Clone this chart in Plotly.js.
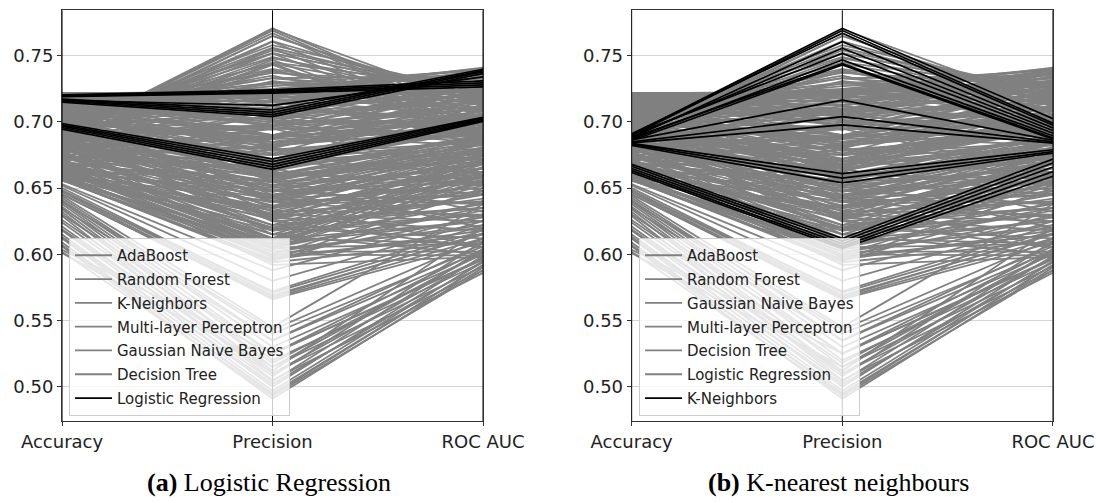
<!DOCTYPE html>
<html><head><meta charset="utf-8">
<script src="https://cdn.plot.ly/plotly-3.0.1.min.js"></script>
<style>html,body{margin:0;padding:0;background:#fff}#chart{width:1102px;height:503px}</style>
</head><body><div id="chart"></div>
<script>
// ---- axis / text ----
const metricLabels = ['Accuracy', 'Precision', 'ROC AUC'];
const yTicks = [0.50, 0.55, 0.60, 0.65, 0.70, 0.75];
const captionA = '<b>(a)</b> Logistic Regression';
const captionB = '<b>(b)</b> K-nearest neighbours';

// ---- AdaBoost ----
const adaAcc  = [0.722,0.721,0.720,0.719,0.718,0.716,0.714,0.712,0.710,0.707,0.704,0.701,0.698,0.695,
                 0.7215,0.7205,0.7185,0.7175,0.7155,0.7135,0.7115,0.7095,0.7075,0.7055,0.7030,0.7010,0.6990,0.6965,0.6940,0.6920,0.6905,0.7170,0.7120,0.7060];
const adaPrec = [0.722,0.719,0.724,0.712,0.721,0.706,0.716,0.700,0.722,0.694,0.710,0.688,0.703,0.682,
                 0.7230,0.7150,0.7240,0.6980,0.7290,0.6900,0.7270,0.6830,0.7180,0.6760,0.7060,0.6700,0.6960,0.6650,0.6880,0.6620,0.6800,0.7250,0.7020,0.7330];
const adaRoc  = [0.741,0.739,0.736,0.738,0.733,0.737,0.730,0.735,0.727,0.732,0.724,0.729,0.721,0.726,
                 0.7400,0.7340,0.7370,0.7280,0.7390,0.7250,0.7360,0.7220,0.7310,0.7190,0.7270,0.7160,0.7230,0.7130,0.7200,0.7100,0.7170,0.7405,0.7180,0.7350];

// ---- Random Forest ----
const rfAcc  = [0.690,0.715,0.698,0.710,0.700,0.705,0.703,0.718,0.693,0.713,0.696,0.708,0.688,0.685,0.682,0.679,0.676,0.673,0.670,0.667,0.664,0.660,
                0.6900,0.6960,0.7160,0.6920,0.7110,0.6990,0.7040,0.7010,0.6970,0.7220,0.6910,0.6870,0.6840,0.6805,0.6770,0.6740,0.6710,0.6680,0.6650,0.6620,0.6590,0.6575,0.6880,0.6955,0.7065,
                0.7210,0.6950,0.6980,0.7090,0.7050,0.7170,0.6990,0.6960,0.6925,0.6890,0.6855,0.6820,0.6785,0.6750,0.6720];
const rfPrec = [0.765,0.721,0.758,0.737,0.752,0.729,0.744,0.718,0.748,0.713,0.738,0.705,0.731,0.697,0.717,0.689,0.709,0.681,0.700,0.672,0.690,0.663,
                0.7700,0.7560,0.7200,0.7610,0.7330,0.7490,0.7150,0.7390,0.7250,0.7010,0.7200,0.6850,0.7100,0.6750,0.6950,0.6650,0.6870,0.6560,0.6790,0.6480,0.6700,0.6350,0.7650,0.7540,0.7350,
                0.7100,0.7450,0.7520,0.7300,0.7400,0.7180,0.7300,0.7080,0.7230,0.6980,0.7120,0.6880,0.7050,0.6820,0.6950];
const rfRoc  = [0.712,0.723,0.722,0.728,0.719,0.726,0.716,0.730,0.720,0.720,0.713,0.717,0.710,0.714,0.704,0.711,0.701,0.708,0.698,0.705,0.695,0.702,
                0.7120,0.7180,0.7330,0.7150,0.7210,0.7120,0.7290,0.7060,0.7180,0.7000,0.7090,0.6960,0.7030,0.6920,0.6980,0.6880,0.6940,0.6830,0.6900,0.6790,0.6860,0.6750,0.7140,0.7200,0.7010,
                0.7200,0.7250,0.7190,0.7260,0.7130,0.7250,0.7080,0.7150,0.7030,0.7100,0.6990,0.7050,0.6940,0.7000,0.6900];

// ---- K-Neighbors ----
const knAcc  = [0.6905,0.6895,0.6910,0.6880,0.6890,0.6900,0.6870,0.6880,0.6860,0.6865,0.6850,0.6842,0.6838,0.6830,0.6822,0.6680,0.6665,0.6648,0.6632,0.6618];
const knPrec = [0.7707,0.7690,0.7670,0.7606,0.7556,0.7518,0.7468,0.7440,0.7430,0.7165,0.7040,0.6977,0.6610,0.6575,0.6540,0.6120,0.6100,0.6080,0.6060,0.6045];
const knRoc  = [0.7025,0.6990,0.6975,0.6955,0.6935,0.6915,0.6895,0.6880,0.6870,0.6860,0.6850,0.6840,0.6790,0.6775,0.6765,0.6720,0.6690,0.6660,0.6625,0.6590];

// ---- Multi-layer Perceptron ----
const mlpAcc  = [0.715,0.712,0.709,0.706,0.703,0.700,0.697,0.694,0.691,0.688,0.685,0.682,0.679,0.676,0.673,0.670,0.667,0.664,0.661,0.658,0.656,
                 0.7180,0.7140,0.7105,0.7070,0.7040,0.7015,0.6985,0.6955,0.6925,0.6895,0.6865,0.6835,0.6805,0.6775,0.6745,0.6715,0.6685,0.6655,0.6625,0.6600,0.6580,0.6565,0.6555,0.6950,0.6800,
                 0.7200,0.7125,0.7085,0.7030,0.6995,0.6940,0.6910,0.6880,0.6850,0.6820,0.6790,0.6760,0.6730,0.6700,0.6670,0.6640,0.6610,0.6590,0.6570,0.7090];
const mlpPrec = [0.697,0.676,0.690,0.668,0.683,0.660,0.675,0.652,0.667,0.644,0.659,0.636,0.651,0.628,0.643,0.620,0.635,0.612,0.627,0.604,0.596,
                 0.7150,0.6850,0.7050,0.6720,0.6950,0.6560,0.6880,0.6480,0.6700,0.6400,0.6630,0.6300,0.6550,0.6220,0.6470,0.6150,0.6390,0.6080,0.6310,0.6000,0.6180,0.5950,0.6100,0.7100,0.6900,
                 0.6820,0.6600,0.6780,0.6450,0.6650,0.6350,0.6580,0.6270,0.6480,0.6180,0.6420,0.6120,0.6330,0.6060,0.6260,0.5990,0.6200,0.6020,0.5960,0.7220];
const mlpRoc  = [0.712,0.700,0.708,0.695,0.704,0.690,0.699,0.685,0.694,0.680,0.689,0.675,0.684,0.670,0.679,0.665,0.674,0.660,0.669,0.655,0.650,
                 0.7250,0.7050,0.7150,0.6980,0.7100,0.6880,0.7020,0.6830,0.6960,0.6780,0.6900,0.6720,0.6860,0.6680,0.6810,0.6620,0.6760,0.6560,0.6700,0.6480,0.6600,0.6400,0.6520,0.7200,0.7060,
                 0.6950,0.6740,0.6920,0.6690,0.6840,0.6590,0.6800,0.6530,0.6750,0.6450,0.6710,0.6380,0.6650,0.6330,0.6580,0.6280,0.6540,0.6220,0.6180,0.7150];

// ---- Gaussian Naive Bayes ----
const gnbAcc  = [0.6500,0.6485,0.6470,0.6455,0.6440,0.6425,0.6410,0.6395,0.6380,0.6360,0.6340,0.6320,0.6290,0.6240,0.6210,0.6180,0.6150,0.6120,0.6090,0.6060,0.6035,0.6010,
                 0.6530,0.6520,0.6475,0.6450,0.6400,0.6350,0.6300,0.6260,0.6190,0.6130,0.6070,0.6020];
const gnbPrec = [0.5710,0.5690,0.5670,0.5660,0.5450,0.5400,0.5350,0.5300,0.5250,0.5200,0.5150,0.5100,0.5050,0.5120,0.5080,0.5040,0.5000,0.4970,0.4940,0.4910,0.5250,0.5150,
                 0.5880,0.5800,0.5720,0.5680,0.5430,0.5350,0.5250,0.5180,0.5100,0.5020,0.4950,0.4930];
const gnbRoc  = [0.6180,0.6150,0.6120,0.6090,0.6380,0.6060,0.6030,0.6000,0.5970,0.5940,0.5910,0.5880,0.5860,0.6200,0.6100,0.6040,0.5990,0.5950,0.5920,0.5900,0.5960,0.6020,
                 0.6300,0.6250,0.6220,0.6160,0.6120,0.6080,0.6040,0.6010,0.5980,0.5940,0.5920,0.5880];

// ---- Decision Tree ----
const dtAcc  = [0.7100,0.7050,0.7000,0.6960,0.6920,0.6880,0.6840,0.6800,0.6760,0.6720,0.6680,0.6640,0.6610,0.6590,0.6575,0.6565,0.6560,0.6600,
                0.7150,0.7080,0.7020,0.6980,0.6940,0.6900,0.6860,0.6820,0.6780,0.6740,0.6700,0.6660,0.6630,0.6600,0.6580,0.6570,0.7060,0.6960,0.6870,0.6760,0.6680,0.6590,
                0.7190,0.7110,0.7040,0.6990,0.6950,0.6910,0.6850,0.6810,0.6770,0.6730,0.6690,0.6650,0.6620,0.6595,0.6580,0.7000,0.6920,0.6830,0.6720,0.6640];
const dtPrec = [0.6550,0.6400,0.6480,0.6320,0.6420,0.6250,0.6360,0.6180,0.6290,0.6110,0.6220,0.6040,0.6150,0.5980,0.6080,0.5940,0.6000,0.6400,
                0.6980,0.6700,0.6850,0.6600,0.6750,0.6520,0.6680,0.6440,0.6580,0.6370,0.6500,0.6300,0.6450,0.6200,0.6350,0.6050,0.6250,0.6150,0.5970,0.6050,0.5920,0.6300,
                0.6900,0.6800,0.6620,0.6900,0.6480,0.6700,0.6400,0.6600,0.6280,0.6520,0.6200,0.6420,0.6120,0.6330,0.6020,0.7150,0.6950,0.6800,0.6650,0.6550];
const dtRoc  = [0.6600,0.6450,0.6550,0.6400,0.6500,0.6350,0.6450,0.6300,0.6400,0.6250,0.6350,0.6200,0.6300,0.6150,0.6250,0.6100,0.5990,0.6050,
                0.7000,0.6800,0.6900,0.6700,0.6850,0.6650,0.6780,0.6600,0.6720,0.6550,0.6680,0.6480,0.6620,0.6420,0.6560,0.6350,0.6050,0.6000,0.6150,0.6080,0.5980,0.6250,
                0.6920,0.6720,0.6520,0.6820,0.6380,0.6620,0.6280,0.6570,0.6180,0.6460,0.6120,0.6380,0.6080,0.6300,0.6020,0.6880,0.6600,0.6480,0.6320,0.6200];

// ---- Logistic Regression ----
const lrAcc  = [0.7205,0.7200,0.7195,0.7190,0.7172,0.7165,0.7158,0.7150,0.7162,0.6988,0.6978,0.6968,0.6958,0.6945];
const lrPrec = [0.7242,0.7232,0.7225,0.7218,0.7090,0.7072,0.7055,0.7040,0.7125,0.6720,0.6700,0.6680,0.6660,0.6642];
const lrRoc  = [0.7310,0.7295,0.7280,0.7265,0.7398,0.7388,0.7378,0.7365,0.7340,0.7035,0.7028,0.7020,0.7012,0.7003];

const classes = {
  'AdaBoost': [adaAcc, adaPrec, adaRoc],
  'Random Forest': [rfAcc, rfPrec, rfRoc],
  'K-Neighbors': [knAcc, knPrec, knRoc],
  'Multi-layer Perceptron': [mlpAcc, mlpPrec, mlpRoc],
  'Gaussian Naive Bayes': [gnbAcc, gnbPrec, gnbRoc],
  'Decision Tree': [dtAcc, dtPrec, dtRoc],
  'Logistic Regression': [lrAcc, lrPrec, lrRoc]
};
const orderA = ['AdaBoost','Random Forest','K-Neighbors','Multi-layer Perceptron','Gaussian Naive Bayes','Decision Tree','Logistic Regression'];
const orderB = ['AdaBoost','Random Forest','Gaussian Naive Bayes','Multi-layer Perceptron','Decision Tree','Logistic Regression','K-Neighbors'];

function makeTrace(name, highlight, xa, ya, leg) {
  const [a, p, r] = classes[name];
  const x = [], y = [];
  for (let i = 0; i < a.length; i++) {
    x.push(0, 1, 2, null);
    y.push(a[i], p[i], r[i], null);
  }
  return {
    type: 'scatter', mode: 'lines', name: name, x: x, y: y,
    xaxis: xa, yaxis: ya, legend: leg, legendgroup: leg + name,
    line: {color: highlight ? '#000000' : '#808080', width: highlight ? 1.7 : 1.8},
    connectgaps: false, hoverinfo: 'skip', showlegend: true
  };
}

const traces = [];
orderA.forEach(n => traces.push(makeTrace(n, n === 'Logistic Regression', 'x', 'y', 'legend')));
orderB.forEach(n => traces.push(makeTrace(n, n === 'K-Neighbors', 'x2', 'y2', 'legend2')));

const tickFont = {family: 'DejaVu Sans', size: 18, color: '#222222'};
function xAxis(domain, anchor) {
  return {domain: domain, anchor: anchor, range: [0, 2], tickvals: [0, 1, 2], ticktext: metricLabels,
    ticks: 'outside', ticklen: 4, tickcolor: '#333333', showline: true, linecolor: '#333333', linewidth: 1,
    mirror: true, showgrid: false, zeroline: false, tickfont: tickFont, fixedrange: true};
}
function yAxis(anchor) {
  return {domain: [0.163, 0.9795], anchor: anchor, range: [0.4741, 0.7843], tickvals: yTicks,
    ticktext: yTicks.map(v => v.toFixed(2)), ticks: 'outside', ticklen: 4, tickcolor: '#333333',
    showline: true, linecolor: '#333333', linewidth: 1, mirror: true, showgrid: true,
    gridcolor: '#d4d4d4', gridwidth: 1, zeroline: false, tickfont: tickFont, fixedrange: true};
}
const legendBase = {xanchor: 'left', yanchor: 'top', y: 0.5268, bgcolor: 'rgba(255,255,255,0.8)',
  bordercolor: '#cccccc', borderwidth: 1, font: {family: 'DejaVu Sans', size: 15, color: '#222222'},
  tracegroupgap: 1.3, traceorder: 'grouped', itemwidth: 37};

const shapes = [];
[['x', 'y'], ['x2', 'y2']].forEach(([xa, ya]) => {
  [0, 1, 2].forEach(v => shapes.push({type: 'line', xref: xa, yref: ya + ' domain', x0: v, x1: v, y0: 0, y1: 1,
    line: {color: '#000000', width: 1}, layer: 'above'}));
});

const layout = {
  width: 1102, height: 503, margin: {l: 0, r: 0, t: 0, b: 0},
  paper_bgcolor: '#ffffff', plot_bgcolor: '#ffffff', showlegend: true,
  xaxis: xAxis([0.0563, 0.4383], 'y'),
  yaxis: yAxis('x'),
  xaxis2: xAxis([0.5732, 0.9555], 'y2'),
  yaxis2: yAxis('x2'),
  legend: Object.assign({}, legendBase, {x: 0.0626}),
  legend2: Object.assign({}, legendBase, {x: 0.5799}),
  shapes: shapes,
  annotations: [
    {text: captionA, xref: 'paper', yref: 'paper', x: 0.2437, y: 0.0417, xanchor: 'center', yanchor: 'middle',
     showarrow: false, font: {family: 'Liberation Serif', size: 26, color: '#000000'}},
    {text: captionB, xref: 'paper', yref: 'paper', x: 0.7605, y: 0.0417, xanchor: 'center', yanchor: 'middle',
     showarrow: false, font: {family: 'Liberation Serif', size: 26, color: '#000000'}}
  ]
};
Plotly.newPlot('chart', traces, layout, {displayModeBar: false, staticPlot: true});
</script></body></html>
